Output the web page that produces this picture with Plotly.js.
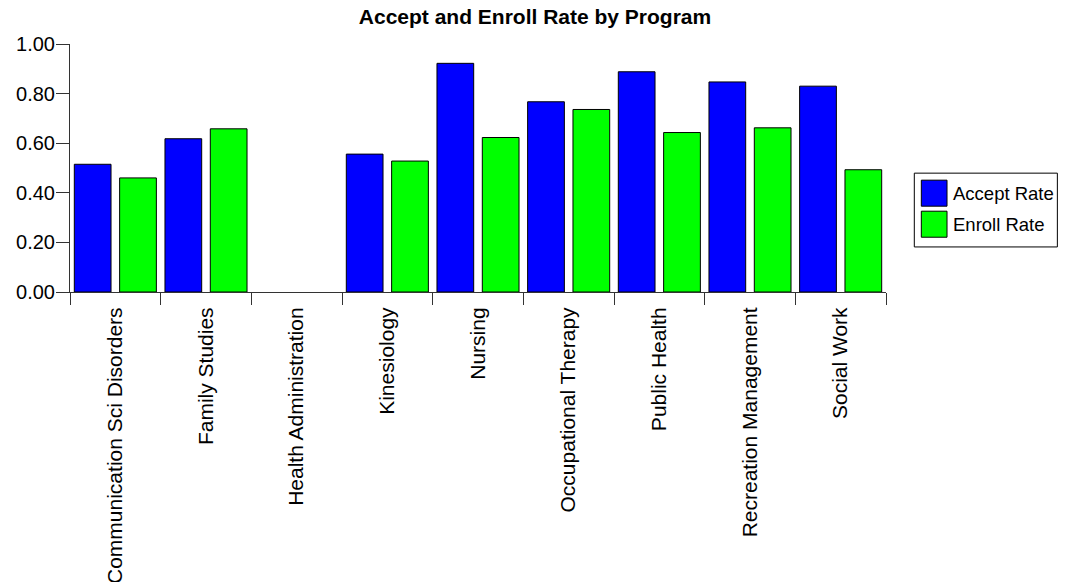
<!DOCTYPE html>
<html>
<head>
<meta charset="utf-8">
<script src="https://cdn.plot.ly/plotly-3.0.1.min.js"></script>
<style>
  html, body { margin: 0; padding: 0; background: #fff; }
  #chart { width: 1070px; height: 582px; }
</style>
</head>
<body>
<div id="chart"></div>
<script>
// ---- data ----
const programs = [
  "Communication Sci Disorders",
  "Family Studies",
  "Health Administration",
  "Kinesiology",
  "Nursing",
  "Occupational Therapy",
  "Public Health",
  "Recreation Management",
  "Social Work"
];
const acceptRate = [0.515, 0.618, null, 0.556, 0.922, 0.767, 0.888, 0.847, 0.830];
const enrollRate = [0.460, 0.658, null, 0.528, 0.623, 0.736, 0.643, 0.662, 0.493];
const seriesNames = ["Accept Rate", "Enroll Rate"];
const seriesColors = ["#0000FF", "#00FF00"];
const yTickVals = [0, 0.2, 0.4, 0.6, 0.8, 1.0];

// ---- chart ----
const FONT = "Liberation Sans, Arial, sans-serif";
const seriesValues = [acceptRate, enrollRate];

const traces = seriesValues.map((vals, i) => ({
  type: "bar",
  x: programs,
  y: vals,
  name: seriesNames[i],
  marker: { color: seriesColors[i], line: { color: "#000", width: 1 } },
  hoverinfo: "x+y+name",
  showlegend: false
}));

// custom legend (large square swatches) in paper coordinates
const W = 1070, H = 582;
const ml = 70, mr = 184.3, mt = 44, mb = 290.3;
const pw = W - ml - mr, ph = H - mt - mb;
const px = v => (v - ml) / pw;
const py = v => (H - mb - v) / ph;

const shapes = [{
  type: "rect", xref: "paper", yref: "paper",
  x0: px(914), x1: px(1057), y0: py(246.7), y1: py(173),
  line: { color: "#000", width: 1 }, fillcolor: "#fff"
}];
const annotations = [];
const rowTops = [180, 211];
seriesNames.forEach((nm, i) => {
  const top = rowTops[i];
  shapes.push({
    type: "rect", xref: "paper", yref: "paper",
    x0: px(921), x1: px(946.7), y0: py(top + 26), y1: py(top),
    line: { color: "#000", width: 1 }, fillcolor: seriesColors[i]
  });
  annotations.push({
    xref: "paper", yref: "paper",
    x: px(951), y: py(top + 13),
    xanchor: "left", yanchor: "middle",
    text: nm, showarrow: false,
    font: { family: FONT, size: 18.5, color: "#000" }
  });
});

const layout = {
  width: W, height: H,
  margin: { l: ml, r: mr, t: mt, b: mb, pad: 0 },
  paper_bgcolor: "#fff",
  plot_bgcolor: "#fff",
  font: { family: FONT, color: "#000" },
  title: {
    text: "<b>Accept and Enroll Rate by Program</b>",
    font: { family: FONT, size: 21, color: "#000" },
    x: 0.5, xref: "container", xanchor: "center",
    y: 1 - 17 / H, yref: "container", yanchor: "middle"
  },
  barmode: "group",
  bargap: 0,
  bargroupgap: 0.19,
  showlegend: false,
  xaxis: {
    type: "category",
    tickangle: -90,
    ticks: "outside", ticklen: 12, tickwidth: 1, tickcolor: "#333",
    tickson: "boundaries",
    ticklabelstandoff: 6,
    showline: true, linecolor: "#333", linewidth: 1,
    showgrid: false, zeroline: false,
    tickfont: { family: FONT, size: 21, color: "#000" },
    automargin: false
  },
  yaxis: {
    range: [0, 1],
    tickvals: yTickVals,
    tickformat: ".2f",
    ticks: "outside", ticklen: 13, tickwidth: 1, tickcolor: "#333",
    ticklabelstandoff: -3,
    showline: true, linecolor: "#333", linewidth: 1,
    showgrid: false, zeroline: false,
    tickfont: { family: FONT, size: 20, color: "#000" },
    automargin: false
  },
  shapes: shapes,
  annotations: annotations
};

Plotly.newPlot("chart", traces, layout, { displayModeBar: false, staticPlot: true });
</script>
</body>
</html>
